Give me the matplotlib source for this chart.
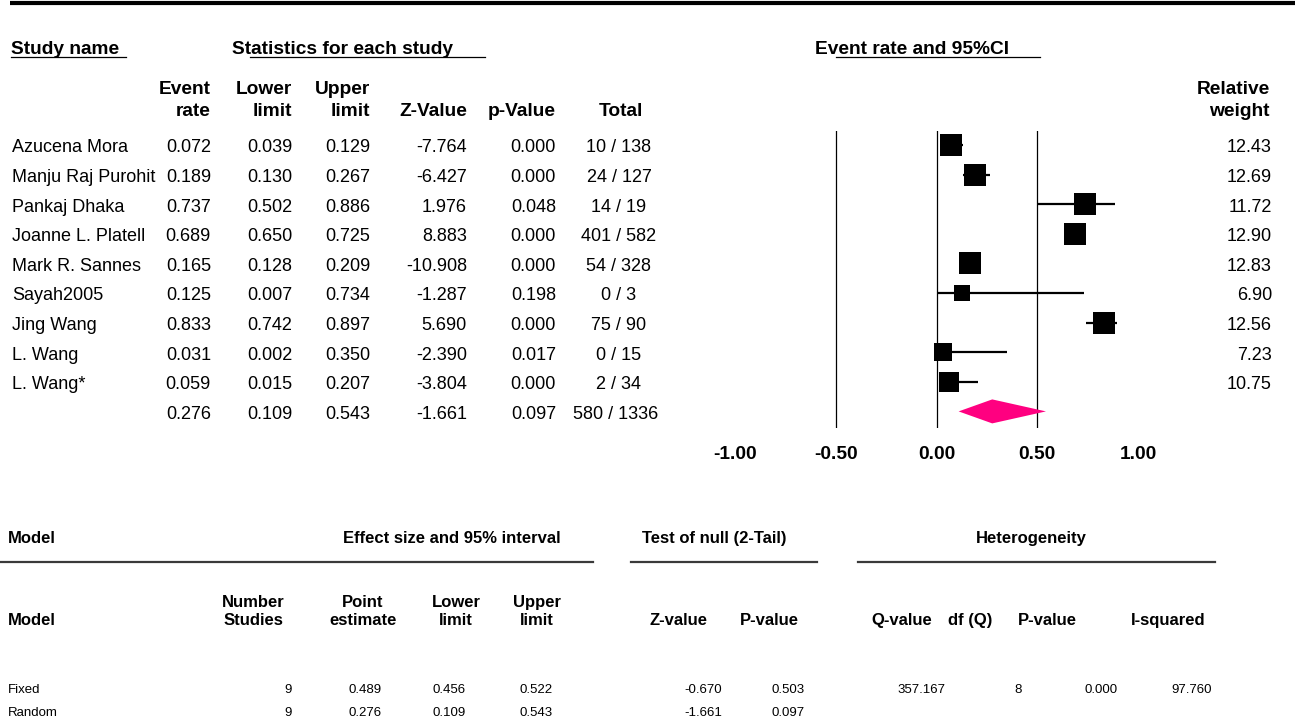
import matplotlib
matplotlib.use("Agg")
import matplotlib.pyplot as plt
from matplotlib import font_manager
from matplotlib.patches import Polygon
import numpy as np

# ---- data ----
studies = ["Azucena Mora", "Manju Raj Purohit", "Pankaj Dhaka", "Joanne L. Platell",
           "Mark R. Sannes", "Sayah2005", "Jing Wang", "L. Wang", "L. Wang*"]
event_rate = [0.072, 0.189, 0.737, 0.689, 0.165, 0.125, 0.833, 0.031, 0.059]
lower_limit = [0.039, 0.130, 0.502, 0.650, 0.128, 0.007, 0.742, 0.002, 0.015]
upper_limit = [0.129, 0.267, 0.886, 0.725, 0.209, 0.734, 0.897, 0.350, 0.207]
z_value = [-7.764, -6.427, 1.976, 8.883, -10.908, -1.287, 5.690, -2.390, -3.804]
p_value = [0.000, 0.000, 0.048, 0.000, 0.000, 0.198, 0.000, 0.017, 0.000]
events = [10, 24, 14, 401, 54, 0, 75, 0, 2]
totals = [138, 127, 19, 582, 328, 3, 90, 15, 34]
rel_weight = [12.43, 12.69, 11.72, 12.90, 12.83, 6.90, 12.56, 7.23, 10.75]

pooled = [0.276, 0.109, 0.543, -1.661, 0.097]
pooled_events, pooled_total = 580, 1336

axis_ticks = [-1.0, -0.5, 0.0, 0.5, 1.0]
ref_lines = [-0.5, 0.0, 0.5]

models = ["Fixed", "Random"]
n_studies = [9, 9]
point_est = [0.489, 0.276]
model_lower = [0.456, 0.109]
model_upper = [0.522, 0.543]
model_z = [-0.670, -1.661]
model_p = [0.503, 0.097]
q_value = [357.167]
df_q = [8]
het_p = [0.000]
i_squared = [97.760]

# ---- fonts ----
try:
    font_manager.findfont(font_manager.FontProperties(family="Liberation Sans Narrow"),
                          fallback_to_default=False)
    NARROW, FS, FSB, FS_SMALL = "Liberation Sans Narrow", 15, 15.5, 10.5
except ValueError:
    NARROW, FS, FSB, FS_SMALL = "Liberation Sans", 13, 13.8, 9.5
plt.rcParams["font.family"] = [NARROW, "DejaVu Sans"]

W, H = 1295, 725
fig = plt.figure(figsize=(W / 100, H / 100), dpi=100)
tab = fig.add_axes([0, 0, 1, 1])
tab.set_xlim(0, W)
tab.set_ylim(H, 0)
tab.axis("off")

ROW0, ROWH = 146, 29.6
CAP = FS * 100 / 72 * 0.716 / 2   # half cap height in px


def row_y(i):
    return ROW0 + ROWH * i + CAP


def txt(x, y, s, ha="left", bold=False, size=None):
    if size is None:
        size = FSB if bold else FS
    tab.text(x, y, s, ha=ha, va="baseline", fontsize=size,
             fontweight="bold" if bold else "normal",
             family=[NARROW, "DejaVu Sans"])


# top rule and group headers
tab.plot([10, W], [3, 3], color="black", lw=3, solid_capstyle="butt")
txt(11, 48 + CAP, "Study name", bold=True)
tab.plot([11, 126], [57, 57], color="black", lw=0.9)
txt(232, 48 + CAP, "Statistics for each study", bold=True)
tab.plot([250, 485], [57, 57], color="black", lw=0.9)
txt(815, 48 + CAP, "Event rate and 95%CI", bold=True)
tab.plot([836, 1040], [57, 57], color="black", lw=0.9)

# column headers
col_x = [211, 292, 370, 467, 556]
heads = [("Event", "rate"), ("Lower", "limit"), ("Upper", "limit"), ("", "Z-Value"), ("", "p-Value")]
for x, (a, b) in zip(col_x, heads):
    if a:
        txt(x, 88 + CAP, a, ha="right", bold=True)
    txt(x, 110 + CAP, b, ha="right", bold=True)
txt(621, 110 + CAP, "Total", ha="center", bold=True)
txt(1270, 88 + CAP, "Relative", ha="right", bold=True)
txt(1270, 110 + CAP, "weight", ha="right", bold=True)

# study rows
for i, name in enumerate(studies):
    y = row_y(i)
    txt(12, y, name)
    vals = [event_rate[i], lower_limit[i], upper_limit[i], z_value[i], p_value[i]]
    for x, v in zip(col_x, vals):
        txt(x, y, f"{v:.3f}", ha="right")
    txt(619, y, f"{events[i]} / {totals[i]}", ha="center")
    txt(1272, y, f"{rel_weight[i]:.2f}", ha="right")

y = row_y(len(studies))
for x, v in zip(col_x, pooled):
    txt(x, y, f"{v:.3f}", ha="right")
txt(616, y, f"{pooled_events} / {pooled_total}", ha="center")

# ---- forest plot ----
FP_L, FP_R, FP_T, FP_B = 735.5, 1137.9, 131, 428
ax = fig.add_axes([FP_L / W, 1 - FP_B / H, (FP_R - FP_L) / W, (FP_B - FP_T) / H])
ax.set_xlim(-1, 1)
ax.set_ylim((FP_B - 145) / ROWH, (FP_T - 145) / ROWH)
for s in ax.spines.values():
    s.set_visible(False)
ax.patch.set_alpha(0)
ax.set_yticks([])
ax.set_xticks(axis_ticks)
ax.set_xticklabels([f"{t:.2f}" for t in axis_ticks], fontsize=FSB, fontweight="bold")
ax.tick_params(axis="x", length=0, pad=13)

for v in ref_lines:
    ax.axvline(v, color="black", lw=0.9)

rows = np.arange(len(studies))
ax.hlines(rows, lower_limit, upper_limit, color="black", lw=1.6, zorder=3)
sides = 22.5 * np.sqrt(np.array(rel_weight) / 12.5) * 0.72
for r, er, s in zip(rows, event_rate, sides):
    ax.plot(er, r, marker="s", ms=s, color="black", mew=0, zorder=4)

ry = len(studies)
hh = 12 / ROWH
ax.add_patch(Polygon([(pooled[1], ry), (pooled[0], ry - hh), (pooled[2], ry), (pooled[0], ry + hh)],
                     closed=True, facecolor="#ff0080", edgecolor="none", zorder=4))

# ---- bottom summary table ----
HF = 12
bcap = HF * 100 / 72 * 0.716 / 2
scap = FS_SMALL * 100 / 72 * 0.716 / 2


def btxt(x, y, s, ha="left", bold=True, size=HF, cap=bcap):
    tab.text(x, y + cap, s, ha=ha, va="baseline", fontsize=size,
             fontweight="bold" if bold else "normal",
             family=["Liberation Sans", "DejaVu Sans"] if bold else [NARROW, "DejaVu Sans"])


btxt(8, 537, "Model")
btxt(452, 537, "Effect size and 95% interval", ha="center")
btxt(714, 537, "Test of null (2-Tail)", ha="center")
btxt(1031, 537, "Heterogeneity", ha="center")
for x0, x1 in [(0, 593), (631, 817), (858, 1215)]:
    tab.plot([x0, x1], [562, 562], color="#3a3a3a", lw=1.6)

btxt(8, 619, "Model")
two_line = [(253, "Number", "Studies"), (363, "Point", "estimate"),
            (456, "Lower", "limit"), (537, "Upper", "limit")]
for x, a, b in two_line:
    btxt(x, 601, a, ha="center")
    btxt(x, 619, b, ha="center")
for x, s in [(679, "Z-value"), (769, "P-value"), (902, "Q-value"),
             (970, "df (Q)"), (1047, "P-value"), (1168, "I-squared")]:
    btxt(x, 619, s, ha="center")

for j, m in enumerate(models):
    y = 688 + 23 * j
    btxt(8, y, m, bold=False, size=FS_SMALL, cap=scap)
    cells = [(292, f"{n_studies[j]}"), (382, f"{point_est[j]:.3f}"),
             (466, f"{model_lower[j]:.3f}"), (553, f"{model_upper[j]:.3f}"),
             (722, f"{model_z[j]:.3f}"), (805, f"{model_p[j]:.3f}")]
    if j < len(q_value):
        cells += [(945, f"{q_value[j]:.3f}"), (1022, f"{df_q[j]}"),
                  (1118, f"{het_p[j]:.3f}"), (1212, f"{i_squared[j]:.3f}")]
    for x, s in cells:
        btxt(x, y, s, ha="right", bold=False, size=FS_SMALL, cap=scap)

fig.savefig("out.png", dpi=100)
